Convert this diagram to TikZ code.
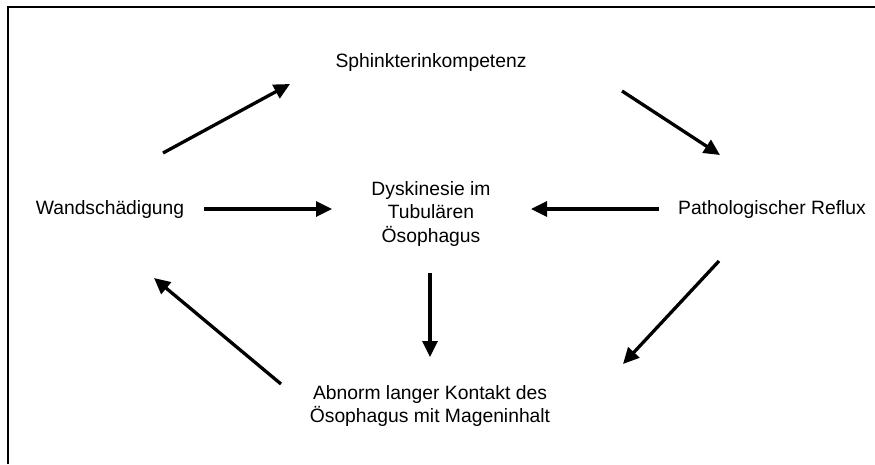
\documentclass[tikz,border=0pt]{standalone}
\usepackage{fontspec}
\setmainfont{Liberation Sans}
\usetikzlibrary{arrows.meta}
\begin{document}
\begin{tikzpicture}[x=1pt,y=-1pt,
  lbl/.style={align=center,inner sep=0pt,font=\fontsize{19.3}{23.5}\selectfont},
  arr/.style={line width=3.3pt,-{Triangle[length=16pt,width=15pt]}},
  frame/.style={line width=2pt}]
\useasboundingbox (0,0) rectangle (875,464);
\draw[frame] (8,464) -- (8,7) -- (875,7);
\node[lbl] (sph) at (431,63) {Sphinkterinkompetenz};
\node[lbl] (wand) at (110,210) {Wandschädigung};
\node[lbl] (dys) at (431,214) {Dyskinesie im\\Tubulären\\Ösophagus};
\node[lbl] (path) at (772,210) {Pathologischer Reflux};
\node[lbl] (abn) at (430,406) {Abnorm langer Kontakt des\\Ösophagus mit Mageninhalt};
\coordinate (a1s) at (163,153); \coordinate (a1e) at (290,84);
\coordinate (a2s) at (622,91);  \coordinate (a2e) at (720,155);
\coordinate (a3s) at (204,209); \coordinate (a3e) at (332,209);
\coordinate (a4s) at (659,209); \coordinate (a4e) at (531,209);
\coordinate (a5s) at (430,273); \coordinate (a5e) at (430,357);
\coordinate (a6s) at (719,261); \coordinate (a6e) at (623,364);
\coordinate (a7s) at (281,384); \coordinate (a7e) at (154,278);
\draw[arr] (a1s) -- (a1e);
\draw[arr] (a2s) -- (a2e);
\draw[arr] (a3s) -- (a3e);
\draw[arr] (a4s) -- (a4e);
\draw[arr] (a5s) -- (a5e);
\draw[arr] (a6s) -- (a6e);
\draw[arr] (a7s) -- (a7e);
\end{tikzpicture}
\end{document}
